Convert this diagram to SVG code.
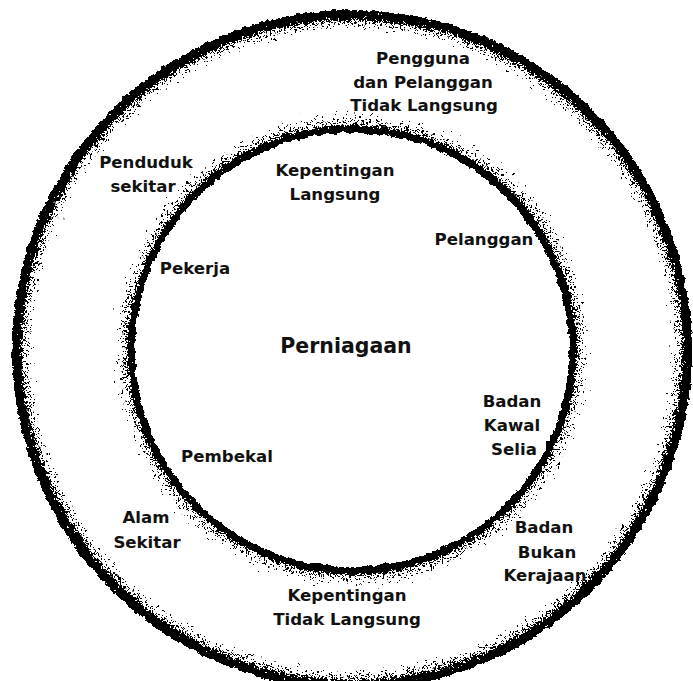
<svg xmlns="http://www.w3.org/2000/svg" width="693" height="681" viewBox="0 0 693 681">
<style>
text{font-family:"DejaVu Sans","Liberation Sans",sans-serif;font-weight:bold;font-size:16.6px;fill:#111;text-anchor:middle}
.big{font-size:20.5px}
</style>
<defs>
<radialGradient id="band" gradientUnits="userSpaceOnUse" cx="351" cy="349" r="340">
<stop offset="0" stop-color="#000" stop-opacity="0"/>
<stop offset="0.638" stop-color="#000" stop-opacity="0"/>
<stop offset="0.6385" stop-color="#000" stop-opacity="1"/>
<stop offset="0.654" stop-color="#000" stop-opacity="1"/>
<stop offset="0.662" stop-color="#000" stop-opacity="0.48"/>
<stop offset="0.71" stop-color="#000" stop-opacity="0"/>
<stop offset="0.93" stop-color="#000" stop-opacity="0"/>
<stop offset="0.968" stop-color="#000" stop-opacity="0.48"/>
<stop offset="0.982" stop-color="#000" stop-opacity="1"/>
<stop offset="1" stop-color="#000" stop-opacity="1"/>
</radialGradient>
<filter id="rough" filterUnits="userSpaceOnUse" x="0" y="0" width="693" height="681">
<feTurbulence type="fractalNoise" baseFrequency="0.75" numOctaves="2" seed="4" result="n"/>
<feColorMatrix in="n" type="matrix" values="0 0 0 0 0  0 0 0 0 0  0 0 0 0 0  1.6 0 0 0 -0.3" result="na"/>
<feComposite in="SourceGraphic" in2="na" operator="arithmetic" k1="0" k2="1" k3="-1" k4="0" result="d"/>
<feComponentTransfer in="d" result="t">
<feFuncA type="linear" slope="40" intercept="0"/>
</feComponentTransfer>
<feTurbulence type="turbulence" baseFrequency="0.1" numOctaves="2" seed="7" result="w"/>
<feDisplacementMap in="t" in2="w" scale="4" xChannelSelector="R" yChannelSelector="G"/>
</filter>
</defs>
<rect width="693" height="681" fill="#fff"/>
<g id="rings" filter="url(#rough)">
<circle cx="351" cy="349" r="340" fill="url(#band)"/>
</g>
<g id="center"><text class="big" x="346" y="353">Perniagaan</text></g>
<g id="kepentingan-langsung"><text x="335" y="176">Kepentingan</text><text x="335" y="200">Langsung</text></g>
<g id="pelanggan"><text x="484" y="245">Pelanggan</text></g>
<g id="pekerja"><text x="195" y="274">Pekerja</text></g>
<g id="badan-kawal-selia"><text x="512" y="407">Badan</text><text x="512" y="431">Kawal</text><text x="514" y="455">Selia</text></g>
<g id="pembekal"><text x="227" y="462">Pembekal</text></g>
<g id="pengguna"><text x="423" y="64">Pengguna</text><text x="423" y="88">dan Pelanggan</text><text x="424" y="111">Tidak Langsung</text></g>
<g id="penduduk"><text x="146" y="168">Penduduk</text><text x="143" y="192">sekitar</text></g>
<g id="alam"><text x="146" y="523">Alam</text><text x="147" y="548">Sekitar</text></g>
<g id="badan-bukan-kerajaan"><text x="544" y="533">Badan</text><text x="547" y="558">Bukan</text><text x="545" y="581">Kerajaan</text></g>
<g id="kepentingan-tidak-langsung"><text x="347" y="601">Kepentingan</text><text x="347" y="625">Tidak Langsung</text></g>
<g id="connectors"/>
</svg>
